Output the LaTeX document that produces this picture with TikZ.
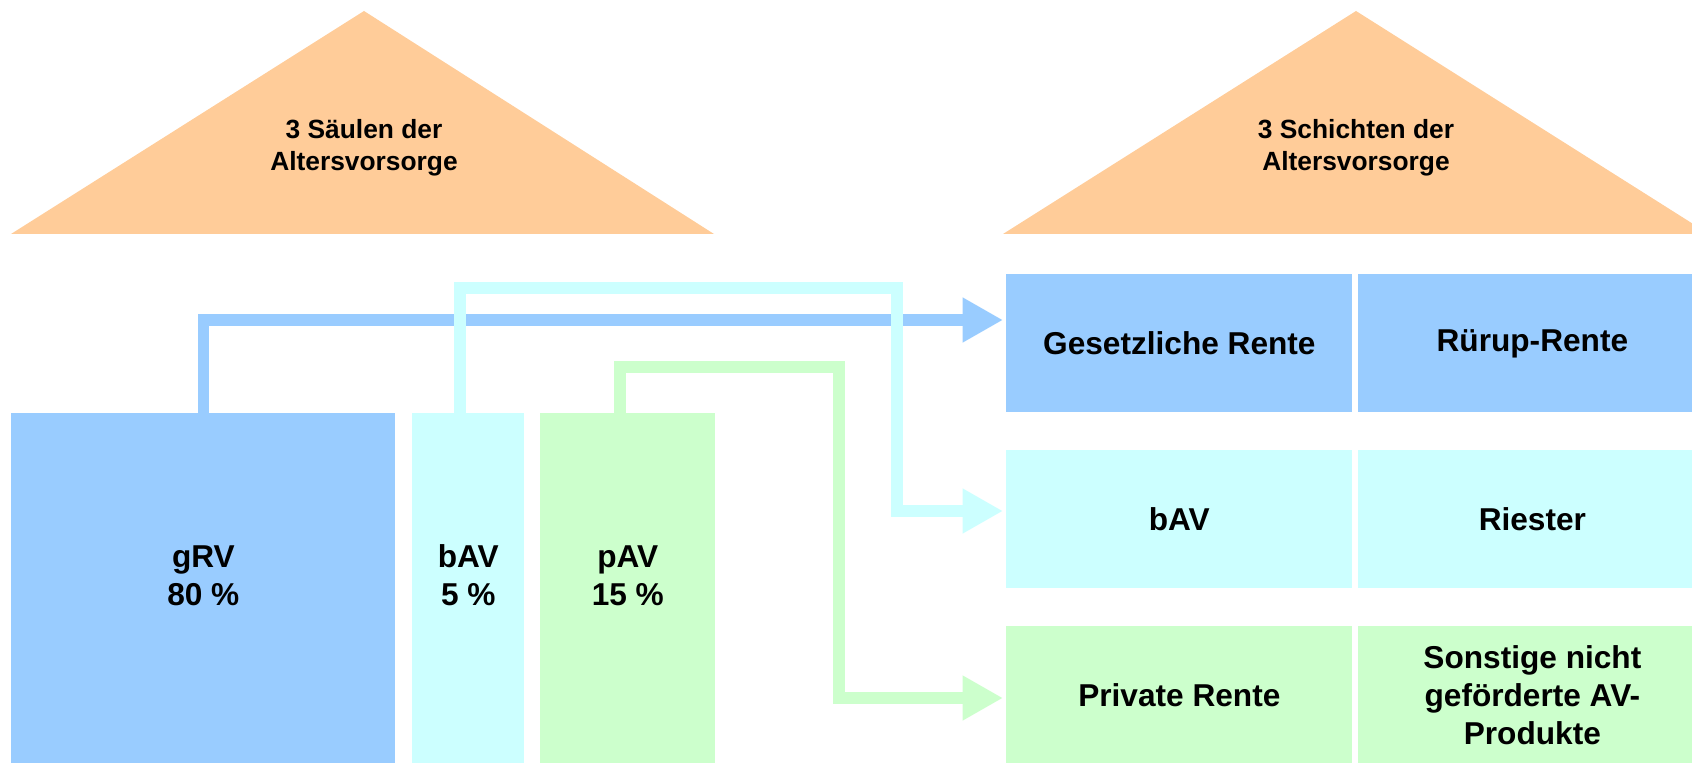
\documentclass[tikz,border=0pt]{standalone}
\usepackage{fontspec}
\setmainfont{Liberation Sans}
\usetikzlibrary{arrows.meta}

\definecolor{saeuleblau}{HTML}{99CCFF}
\definecolor{saeulecyan}{HTML}{CCFFFF}
\definecolor{saeulegruen}{HTML}{CCFFCC}
\definecolor{dachorange}{HTML}{FFCC99}

\begin{document}
\begin{tikzpicture}[x=0.02cm,y=-0.02cm]
        \useasboundingbox (0,0) rectangle (1692,763);
        \clip (0,0) rectangle (1692,763);

        % Daecher
        \fill[dachorange] (11,234) -- (364,11) -- (714,234) -- cycle;
        \fill[dachorange] (1003,234) -- (1356,11) -- (1709,234) -- cycle;
        \begin{scope}[every node/.style={align=center,font=\bfseries\fontsize{15}{18.2}\selectfont}]
            \node (D1) at (364,148) {3 Säulen der\\Altersvorsorge};
            \node (D2) at (1356,148) {3 Schichten der\\Altersvorsorge};
        \end{scope}

        % Saeulen
        \begin{scope}[every node/.style={anchor=north west,inner sep=0pt,minimum height=350*0.02cm}]
            \node[fill=saeuleblau,minimum width=384*0.02cm]  (gRV) at (11,413) {};
            \node[fill=saeulecyan,minimum width=112*0.02cm]  (bAV) at (412,413) {};
            \node[fill=saeulegruen,minimum width=175*0.02cm] (pAV) at (540,413) {};
        \end{scope}
        \begin{scope}[every node/.style={align=center,font=\bfseries\fontsize{18}{21.6}\selectfont}]
            \node (gRVt) at ([yshift=7.4pt]gRV.center) {gRV\\80 \%};
            \node (bAVt) at ([yshift=7.4pt]bAV.center) {bAV\\5 \%};
            \node (pAVt) at ([yshift=7.4pt]pAV.center) {pAV\\15 \%};
        \end{scope}

        % Schichten
        \begin{scope}[every node/.style={anchor=north west,inner sep=0pt,minimum height=138*0.02cm,
                      align=center,font=\bfseries\fontsize{18}{21.6}\selectfont}]
            \node[fill=saeuleblau,minimum width=346*0.02cm]  (GR) at (1006,274) {Gesetzliche Rente};
            \node[fill=saeuleblau,minimum width=348*0.02cm]  (RR) at (1358,274) {Rürup-Rente};
            \node[fill=saeulecyan,minimum width=346*0.02cm]  (BA) at (1006,450) {bAV};
            \node[fill=saeulecyan,minimum width=348*0.02cm]  (RI) at (1358,450) {Riester};
            \node[fill=saeulegruen,minimum width=346*0.02cm] (PR) at (1006,626) {Private Rente};
            \node[fill=saeulegruen,minimum width=348*0.02cm] (SO) at (1358,626) {Sonstige nicht\\geförderte AV-\\Produkte};
        \end{scope}

        % Verbindungen
        \coordinate (bAVf) at (460,413);
        \coordinate (pAVf) at (620,413);
        \coordinate (tipA) at (1003,320);
        \coordinate (tipB) at (1003,511);
        \coordinate (tipC) at (1003,698);
        \begin{scope}[line width=6.3pt,-{Triangle[length=23pt,width=24pt]}]
            \draw[saeuleblau]  (gRV.north) |- (tipA);
            \draw[saeulecyan]  (bAVf) |- (897,288) |- (tipB);
            \draw[saeulegruen] (pAVf) |- (839,367) |- (tipC);
        \end{scope}
    \end{tikzpicture}
\end{document}
